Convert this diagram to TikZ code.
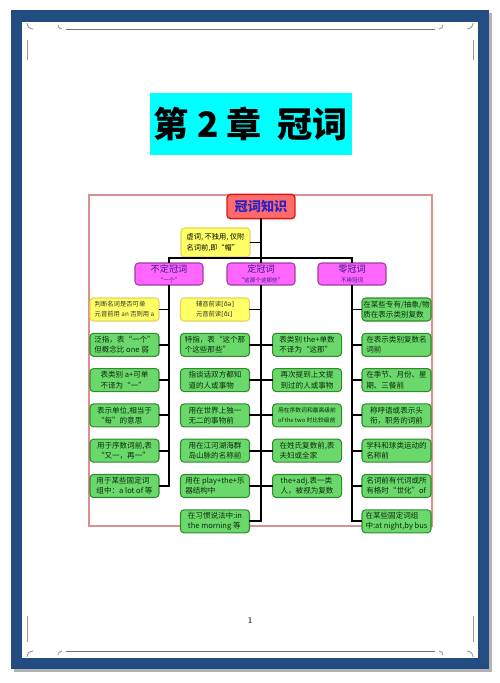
\documentclass[tikz,border=0pt]{standalone}
\usepackage{fontspec}
\newfontfamily\cjk{Noto Sans CJK SC}
\newfontfamily\ipa{DejaVu Sans}
\usetikzlibrary{positioning}
\definecolor{frameblue}{HTML}{234C82}
\definecolor{titlecyan}{HTML}{00FFFF}
\definecolor{rootred}{HTML}{FF6B6B}
\definecolor{rootedge}{HTML}{D81818}
\definecolor{rootink}{HTML}{2A22C8}
\definecolor{noteyellow}{HTML}{FFFF66}
\definecolor{noteedge}{HTML}{E6D35A}
\definecolor{artpink}{HTML}{FF66FF}
\definecolor{artedge}{HTML}{A03CA0}
\definecolor{artink}{HTML}{3A1A8A}
\definecolor{leafgreen}{HTML}{6AD86A}
\definecolor{leafedge}{HTML}{2E8B2E}
\definecolor{leafink}{HTML}{0E2A0E}
\definecolor{chartedge}{HTML}{D89090}

\begin{document}
\begin{tikzpicture}[
  x=0.02cm, y=-0.02cm,
  node distance=0.225cm,
  titlebox/.style={fill=titlecyan, minimum width=4.04cm, minimum height=1.24cm, inner sep=0pt, font=\cjk\bfseries\fontsize{20}{24}\selectfont},
  rootbox/.style={draw=rootedge, line width=0.8pt, fill=rootred, rounded corners=2pt, minimum width=1.36cm, minimum height=0.46cm, text=rootink, font=\cjk\bfseries\fontsize{7.5}{8}\selectfont},
  notebox/.style={draw=noteedge, line width=0.6pt, fill=noteyellow, rounded corners=2pt, minimum width=1.38cm, minimum height=0.58cm, inner sep=1pt, align=left, font=\cjk\fontsize{4.1}{6.4}\selectfont},
  artbox/.style={draw=artedge, line width=0.6pt, fill=artpink, rounded corners=2pt, minimum width=1.36cm, minimum height=0.44cm, inner sep=0.5pt, align=center, text=artink, font=\cjk\fontsize{5.2}{5.8}\selectfont},
  leafbox/.style={draw=leafedge, line width=0.6pt, fill=leafgreen, rounded corners=2pt, minimum width=1.38cm, minimum height=0.46cm, inner sep=0.5pt, align=left, text=leafink, font=\cjk\fontsize{4.3}{5.8}\selectfont},
  tipbox/.style={leafbox, draw=noteedge, fill=noteyellow, text=black!80, font=\cjk\fontsize{3.6}{5.8}\selectfont},
  link/.style={line width=1.1pt, line cap=rect},
]
  % page and frame
  \fill[white] (0,0) rectangle (500,683);
  \useasboundingbox (0,0) rectangle (500,683);
  \fill[black!30] (14,13) rectangle (492,672);
  \fill[frameblue] (11,10) rectangle (489,669);
  \fill[white] (22,22) rectangle (478,658);
  \draw[black!55, line width=0.5pt] (66,29) -- (435,29) (66,651) -- (435,651);
  \draw[black!40, line width=0.5pt] (27,40) -- (27,60) (27,616) -- (27,642) (473,40) -- (473,60) (473,616) -- (473,642);
  \draw[black!40, line width=0.5pt] (33,29) arc[start angle=90, end angle=180, radius=6] (62,29) arc[start angle=90, end angle=180, radius=4]
    (467,29) arc[start angle=90, end angle=0, radius=6] (439,29) arc[start angle=90, end angle=0, radius=4]
    (33,651) arc[start angle=270, end angle=180, radius=6] (62,651) arc[start angle=270, end angle=180, radius=4]
    (467,651) arc[start angle=270, end angle=360, radius=6] (439,651) arc[start angle=270, end angle=360, radius=4];

  \node[titlebox] (title) at (251,124) {第 2 章\ \ 冠词};
  \node[font=\fontsize{5}{6}\selectfont] (pagenum) at (250,621) {1};

  % chart
  \draw[chartedge, line width=0.6pt] (89,195) rectangle (432,526);
  \node[rootbox] (root) at (261,206.5) {冠词知识};
  \node[notebox] (note) at (215.5,242.5) {虚词, 不独用, 仅附\\名词前,即“帽”};
  \node[artbox] (indef) at (169,274) {不定冠词\\{\fontsize{3.2}{3.6}\selectfont “一个”}};
  \node[artbox] (def) at (261,274) {定冠词\\{\fontsize{3.2}{3.6}\selectfont “这那个这那些”}};
  \node[artbox] (zero) at (352,274) {零冠词\\{\fontsize{3.2}{3.6}\selectfont 不用冠词}};

  \node[tipbox] (a1) at (124.5,309.5) {判断名词是否可单\\元音前用 an 否则用 a};
  \node[leafbox, below=of a1] (a2) {泛指，表“一个”\\但概念比 one 弱};
  \node[leafbox, below=of a2] (a3) {表类别 a+可单\\不译为“一”};
  \node[leafbox, below=of a3] (a4) {表示单位,相当于\\“每”的意思};
  \node[leafbox, below=of a4] (a5) {用于序数词前,表\\“又一，再一”};
  \node[leafbox, below=of a5] (a6) {用于某些固定词\\组中：a lot of 等};

  \node[tipbox] (dl1) at (215,309.5) {辅音前读{\ipa[ðə]}\\元音前读{\ipa[ðɪ]}};
  \node[leafbox, below=of dl1] (dl2) {特指，表“这个那\\个这些那些”};
  \node[leafbox, below=of dl2] (dl3) {指谈话双方都知\\道的人或事物};
  \node[leafbox, below=of dl3] (dl4) {用在世界上独一\\无二的事物前};
  \node[leafbox, below=of dl4] (dl5) {用在江河湖海群\\岛山脉的名称前};
  \node[leafbox, below=of dl5] (dl6) {用在 play+the+乐\\器结构中};
  \node[leafbox, below=of dl6] (dl7) {在习惯说法中:in\\the morning 等};

  \node[leafbox, right=0.44cm of dl2] (dr1) {表类别 the+单数\\不译为“这那”};
  \node[leafbox, below=of dr1] (dr2) {再次提到上文提\\到过的人或事物};
  \node[leafbox, below=of dr2] (dr3) {{\fontsize{3.3}{4.6}\selectfont 用在序数词和最高级前}\\{\fontsize{3.3}{4.6}\selectfont of the two 时比较级前}};
  \node[leafbox, below=of dr3] (dr4) {在姓氏复数前,表\\夫妇或全家};
  \node[leafbox, below=of dr4] (dr5) {the+adj.表一类\\人，被视为复数};

  \node[leafbox] (z1) at (396.5,309.5) {在某些专有/抽象/物\\质在表示类别复数};
  \node[leafbox, below=of z1] (z2) {在表示类别复数名\\词前};
  \node[leafbox, below=of z2] (z3) {在季节、月份、星\\期、三餐前};
  \node[leafbox, below=of z3] (z4) {称呼语或表示头\\衔，职务的词前};
  \node[leafbox, below=of z4] (z5) {学科和球类运动的\\名称前};
  \node[leafbox, below=of z5] (z6) {名词前有代词或所\\有格时“世化”of};
  \node[leafbox, below=of z6] (z7) {在某些固定词组\\中:at night,by bus};

  % connectors
  \coordinate (hub) at (261,258);
  \draw[link] (root) -- (hub);
  \draw[link] (note) -- (note -| hub);
  \draw[link] (indef) |- (hub) -| (zero);
  \draw[link] (hub) -- (def);
  \draw[link] (indef) -- (indef |- a6);
  \foreach \i in {1,...,6} \draw[link] (a\i) -- (a\i -| indef);
  \draw[link] (def) -- (def |- dl7);
  \foreach \i in {1,...,7} \draw[link] (dl\i) -- (dl\i -| def);
  \foreach \i in {1,...,5} \draw[link] (dr\i) -- (dr\i -| def);
  \draw[link] (zero) -- (zero |- z7);
  \foreach \i in {1,...,7} \draw[link] (z\i) -- (z\i -| zero);
\end{tikzpicture}
\end{document}
